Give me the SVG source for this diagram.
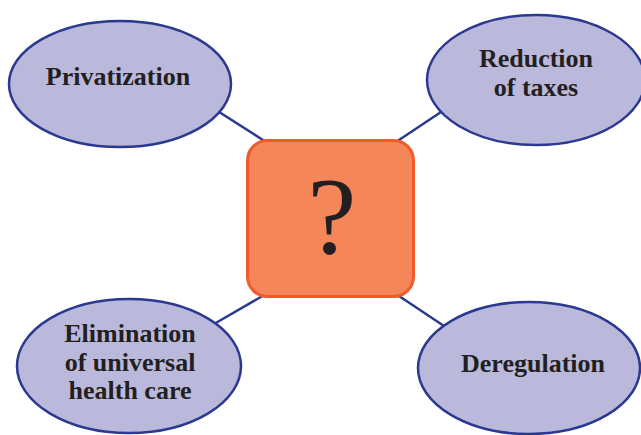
<svg xmlns="http://www.w3.org/2000/svg" width="641" height="435" viewBox="0 0 641 435">
<style>
.conn line{stroke:#2B3990;stroke-width:2.5}
.oval{fill:#BBB9DB;stroke:#2B3990;stroke-width:2.5}
.lbl{font-family:"Liberation Serif","Times New Roman",serif;font-weight:bold;font-size:26px;fill:#231F20;text-anchor:middle}
</style>
<rect width="641" height="435" fill="#FFFFFF"/>
<g id="connectors" class="conn">
<line x1="216" y1="110" x2="266" y2="142"/>
<line x1="444" y1="110" x2="396" y2="142"/>
<line x1="214" y1="324" x2="266" y2="294"/>
<line x1="444" y1="326" x2="396" y2="294"/>
</g>
<g id="privatization">
<ellipse class="oval" cx="120" cy="84" rx="111" ry="63"/>
<text class="lbl" x="118" y="85">Privatization</text>
</g>
<g id="reduction">
<ellipse class="oval" cx="536" cy="80" rx="109" ry="65"/>
<text class="lbl" x="536" y="67">Reduction</text>
<text class="lbl" x="536" y="96">of taxes</text>
</g>
<g id="elimination">
<ellipse class="oval" cx="129" cy="366" rx="112" ry="67"/>
<text class="lbl" x="130" y="342">Elimination</text>
<text class="lbl" x="130" y="371">of universal</text>
<text class="lbl" x="130" y="399">health care</text>
</g>
<g id="deregulation">
<ellipse class="oval" cx="529" cy="368" rx="111" ry="66"/>
<text class="lbl" x="533" y="372">Deregulation</text>
</g>
<g id="center">
<rect x="247.5" y="140.5" width="166" height="156" rx="20" fill="#F5865A" stroke="#F15A29" stroke-width="3"/>
<text x="332" y="253" font-family="'Liberation Serif','Times New Roman',serif" font-size="110" fill="#231F20" text-anchor="middle">?</text>
</g>
</svg>
